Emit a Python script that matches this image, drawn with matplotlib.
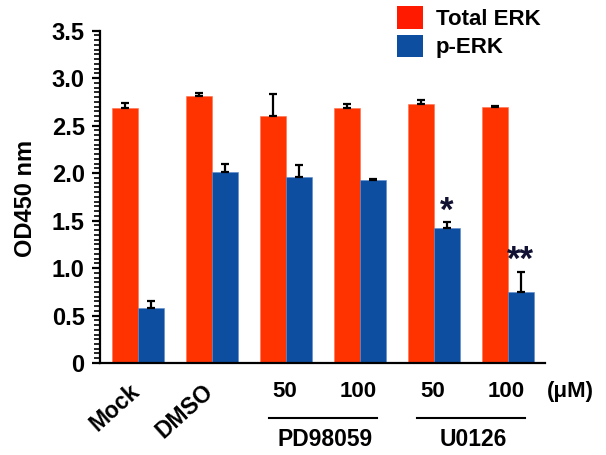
import matplotlib
matplotlib.use("Agg")
import matplotlib.pyplot as plt
from matplotlib.patches import Patch
from matplotlib.ticker import MultipleLocator
import numpy as np

plt.rcParams['font.family'] = ['Liberation Sans', 'DejaVu Sans']
plt.rcParams['font.weight'] = 'bold'

groups = ['Mock', 'DMSO', '50', '100', '50', '100']
total_erk = [2.68, 2.81, 2.60, 2.68, 2.73, 2.69]
total_err = [0.06, 0.03, 0.23, 0.05, 0.04, 0.02]
p_erk = [0.58, 2.01, 1.96, 1.93, 1.42, 0.75]
p_err = [0.07, 0.09, 0.12, 0.01, 0.06, 0.21]
sig = ['', '', '', '', '*', '**']
series_names = ['Total ERK', 'p-ERK']
inhibitors = ['PD98059', 'U0126']
unit_label = '(\u03bcM)'
y_label = 'OD450 nm'

red = '#FF3300'
blue = '#0D4EA0'

fig = plt.figure(figsize=(6.06, 4.55), dpi=100)
ax = fig.add_axes([0.165, 0.2022, 0.734, 0.7307])

x = np.arange(len(groups))
w = 0.35
ax.bar(x - w / 2, total_erk, w, color=red, edgecolor='#FF7050', linewidth=0.4,
       yerr=[np.zeros(len(x)), total_err], capsize=3.0,
       error_kw=dict(ecolor='black', elinewidth=1.6, capthick=1.6))
ax.bar(x + w / 2, p_erk, w, color=blue, edgecolor='#5B8AD0', linewidth=0.4,
       yerr=[np.zeros(len(x)), p_err], capsize=3.0,
       error_kw=dict(ecolor='black', elinewidth=1.6, capthick=1.6))

ax.set_xlim(-0.514, 5.5)
ax.set_ylim(0, 3.5)
ax.spines['top'].set_visible(False)
ax.spines['right'].set_visible(False)
ax.spines['left'].set_linewidth(1.6)
ax.spines['bottom'].set_linewidth(1.6)

ax.yaxis.set_major_locator(MultipleLocator(0.5))
ax.yaxis.set_minor_locator(MultipleLocator(0.05))
ax.tick_params(axis='y', which='major', length=6, width=1.6, labelsize=17, pad=5)
ax.tick_params(axis='y', which='minor', length=4, width=1.2)
ax.set_yticks(np.arange(0, 3.51, 0.5))
ax.set_yticklabels(['0'] + ['%.1f' % v for v in np.arange(0.5, 3.51, 0.5)])
ax.set_xticks([])

ax.set_ylabel(y_label, fontsize=17, fontweight='bold')
ax.yaxis.set_label_coords(-0.142, 0.496)

trans = ax.get_xaxis_transform()
for i, g in enumerate(groups):
    if i < 2:
        ax.text(i + 0.08, -0.05, g, transform=trans, rotation=42,
                ha='right', va='top', fontsize=16.5, fontweight='bold')
    else:
        ax.text(i - 0.02, -0.087, g, transform=trans, ha='center', va='center',
                fontsize=16, fontweight='bold')

ax.text(5.84, -0.087, unit_label, transform=trans, ha='center', va='center',
        fontsize=16, fontweight='bold', clip_on=False)

for k, name in enumerate(inhibitors):
    a, b = 2 + 2 * k, 3 + 2 * k
    ax.plot([a - 0.23, b + 0.23], [-0.165, -0.165], transform=trans,
            color='black', linewidth=1.5, clip_on=False)
    ax.text((a + b) / 2 + 0.03, -0.23, name, transform=trans, ha='center',
            va='center', fontsize=16.5, fontweight='bold')

for i, s in enumerate(sig):
    if s:
        ax.text(i + w / 2, p_erk[i] + p_err[i] + 0.12, s, ha='center',
                va='center', fontsize=25, fontweight='bold', color='#111133')

handles = [Patch(facecolor='#FF1A00', edgecolor='none'),
           Patch(facecolor=blue, edgecolor='none')]
fig.legend(handles, series_names, loc='upper left',
           bbox_to_anchor=(0.63, 1.02), frameon=False, fontsize=16,
           handlelength=1.17, handleheight=1.17, handletextpad=0.55,
           labelspacing=0.2, borderpad=0.2)

fig.savefig('out.png', dpi=100)
